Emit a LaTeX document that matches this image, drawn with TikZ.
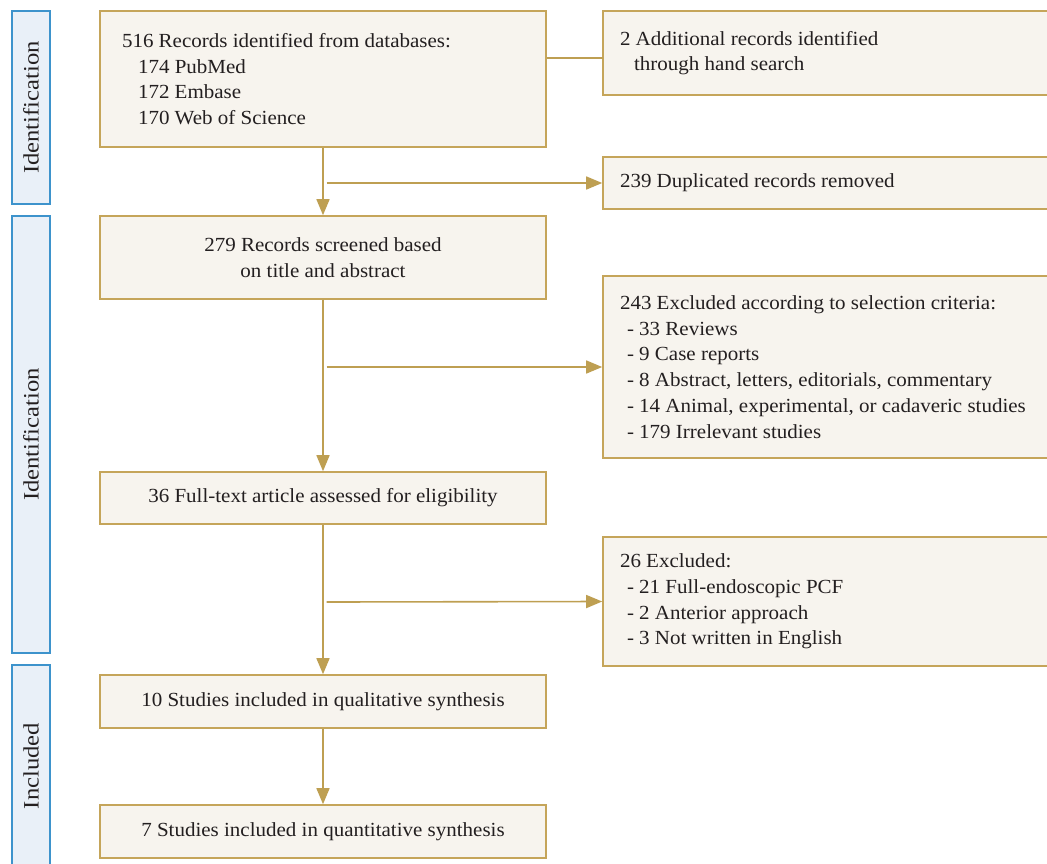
\documentclass[tikz,border=0pt]{standalone}
\usepackage{fontspec}
\setmainfont{Liberation Serif}[FakeStretch=1.05]
\newfontfamily\sidefont{Liberation Serif}[FakeStretch=1.12]
\usetikzlibrary{arrows.meta}
\definecolor{gold}{HTML}{C5A55A}
\definecolor{goldarr}{HTML}{BE9F52}
\definecolor{boxfill}{HTML}{F7F4EE}
\definecolor{barline}{HTML}{3D93CC}
\definecolor{barfill}{HTML}{E9F0F8}
\definecolor{ink}{HTML}{231F20}
\tikzset{
  box/.style={draw=gold, line width=1.6pt, fill=boxfill, inner sep=0pt, font=\fontsize{20}{25.7}\selectfont, text=ink},
  sidebar/.style={draw=barline, line width=1.6pt, fill=barfill, inner sep=0pt, minimum width=38pt, font=\sidefont\fontsize{22}{24}\selectfont, text=ink},
  arr/.style={draw=goldarr, line width=1.6pt, -{Triangle[length=16pt,width=13pt]}},
  plainline/.style={draw=goldarr, line width=1.6pt},
}
\begin{document}
\begin{tikzpicture}[x=1pt,y=-1pt]
\useasboundingbox (0,0) rectangle (1047,863);
% side bars
\node[sidebar, minimum height=193pt] (s1) at (31,107.5) {\rotatebox{90}{Identification}};
\node[sidebar, minimum height=437pt] (s2) at (31,434.5) {\rotatebox{90}{Identification}};
\node[sidebar, minimum height=202pt] (s3) at (31,766) {\rotatebox{90}{Included}};
% main boxes
\node[box, minimum width=446pt, minimum height=136pt, align=flush left, text width=402pt] (b1) at (323,79)
  {516 Records identified from databases:\\
   \hspace*{16pt}174 PubMed\\
   \hspace*{16pt}172 Embase\\
   \hspace*{16pt}170 Web of Science};
\node[box, minimum width=446pt, minimum height=83pt, align=center] (b2) at (323,257.5)
  {279 Records screened based\\on title and abstract};
\node[box, minimum width=446pt, minimum height=52pt] (b3) at (323,498)
  {36 Full-text article assessed for eligibility};
\node[box, minimum width=446pt, minimum height=53pt] (b4) at (323,701.5)
  {10 Studies included in qualitative synthesis};
\node[box, minimum width=446pt, minimum height=53pt] (b5) at (323,831.5)
  {7 Studies included in quantitative synthesis};
% right boxes
\node[box, minimum width=470pt, minimum height=84pt, align=flush left, text width=436pt] (r1) at (838,53)
  {2 Additional records identified\\
   \hspace*{14pt}through hand search};
\node[box, minimum width=470pt, minimum height=52pt, align=flush left, text width=436pt] (r2) at (838,183)
  {239 Duplicated records removed};
\node[box, minimum width=470pt, minimum height=182pt, align=flush left, text width=436pt] (r3) at (838,367)
  {243 Excluded according to selection criteria:\\
   \hspace*{7pt}- 33 Reviews\\
   \hspace*{7pt}- 9 Case reports\\
   \hspace*{7pt}- 8 Abstract, letters, editorials, commentary\\
   \hspace*{7pt}- 14 Animal, experimental, or cadaveric studies\\
   \hspace*{7pt}- 179 Irrelevant studies};
\node[box, minimum width=470pt, minimum height=129pt, align=flush left, text width=436pt] (r4) at (838,601.5)
  {26 Excluded:\\
   \hspace*{7pt}- 21 Full-endoscopic PCF\\
   \hspace*{7pt}- 2 Anterior approach\\
   \hspace*{7pt}- 3 Not written in English};
% connectors
\coordinate (j1) at (326.5,183);
\coordinate (j2) at (326.5,367);
\coordinate (j3) at (326.5,602);
\coordinate (h1) at (603,58);
\draw[plainline] (b1.east |- h1) -- (h1);
\draw[arr] (b1) -- (b2);
\draw[arr] (b2) -- (b3);
\draw[arr] (b3) -- (b4);
\draw[arr] (b4) -- (b5);
\draw[arr] (j1) -- (r2.west);
\draw[arr] (j2) -- (r3.west);
\draw[arr] (j3) -- (r4.west);
\end{tikzpicture}
\end{document}
